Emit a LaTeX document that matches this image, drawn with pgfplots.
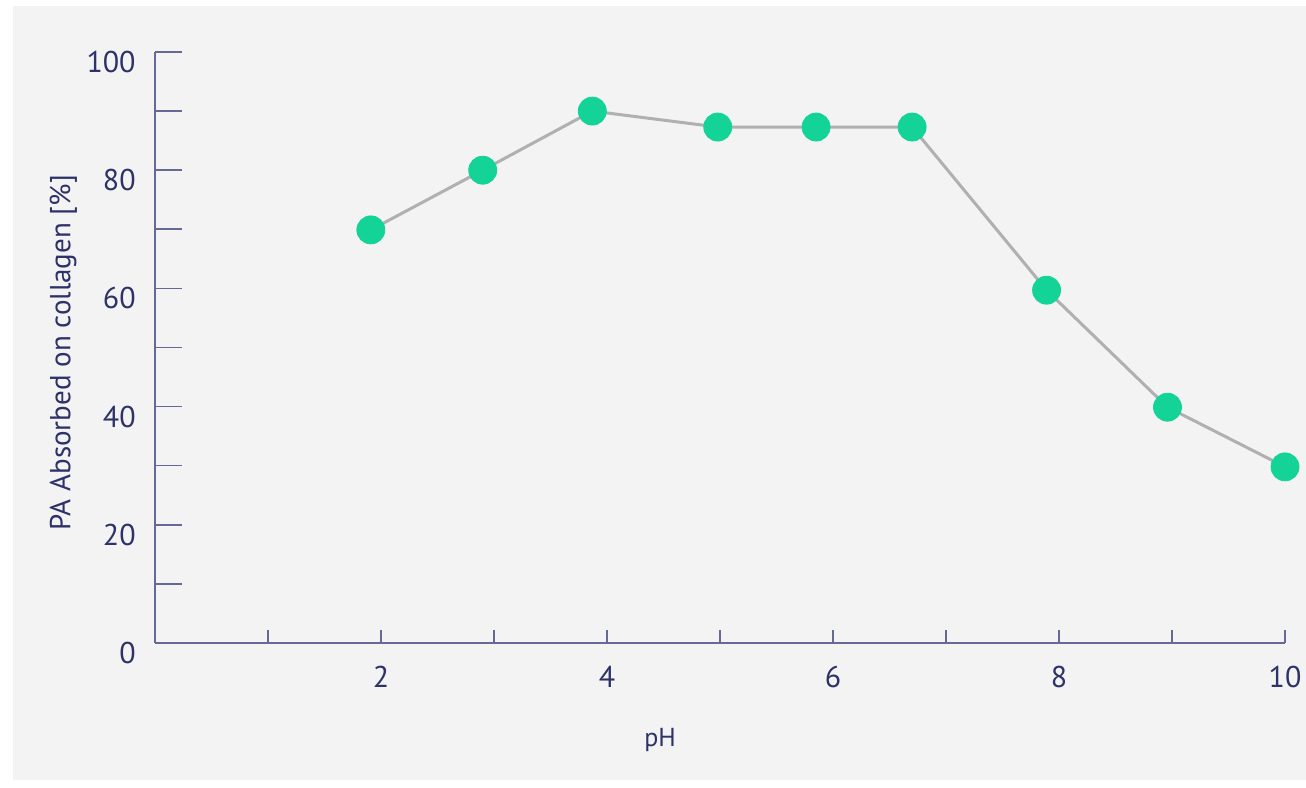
\documentclass[border=0pt]{standalone}
\usepackage{pgfplots}
\pgfplotsset{compat=1.18}
\usepackage{fontspec}
\setmainfont{PT Sans}
\definecolor{bgc}{RGB}{243,243,243}
\definecolor{navy}{RGB}{45,50,104}
\definecolor{axc}{RGB}{100,105,150}
\definecolor{mk}{RGB}{20,211,150}
\definecolor{ln}{RGB}{176,176,176}
\begin{document}
\begin{tikzpicture}
\fill[white] (0,0) rectangle (653pt,393.5pt);
\fill[bgc] (6.5pt,3.5pt) rectangle (653pt,390.5pt);
\begin{axis}[
  at={(77.5pt,72pt)}, anchor=south west,
  scale only axis, width=565pt, height=295.5pt,
  xmin=0, xmax=10, ymin=0, ymax=100,
  axis x line=bottom, axis y line=left,
  axis line style={-, draw=axc, line width=0.8pt},
  clip=false,
  xtick=\empty,
  ytick={0,10,...,100},
  yticklabels={0,,20,,40,,60,,80,,100},
  tick align=inside,
  major tick length=13.5pt,
  ytick style={draw=axc, line width=0.8pt},
  yticklabel style={font=\fontsize{15}{18}\selectfont, text=navy, inner sep=0pt, anchor=east, xshift=-9.5pt, yshift=-5pt},
  ylabel={PA Absorbed on collagen [\%]},
  ylabel style={font=\fontsize{14.5}{17}\selectfont, text=navy, at={(axis description cs:-0.081,0.491)}, anchor=center},
  xlabel={pH},
  xlabel style={font=\fontsize{13}{15}\selectfont, text=navy, at={(axis description cs:0.447,0)}, anchor=center, yshift=-48.5pt},
  /pgf/number format/assume math mode=true,
]
\pgfplotsinvokeforeach{1,...,10}{\draw[axc, line width=0.8pt] (axis cs:#1,0) -- ++(0,6.5pt);}
\pgfplotsinvokeforeach{2,4,6,8,10}{\node[font=\fontsize{15}{18}\selectfont, text=navy, inner sep=0pt, anchor=center] at (axis cs:#1,0) [yshift=-17pt] {#1};}
\addplot[color=ln, line width=1.5pt, mark=*, mark size=7pt, mark options={fill=mk, draw=mk, line width=0.4pt}]
  coordinates {
  (1.91,69.9) (2.90,80.0) (3.87,90.0) (4.98,87.3) (5.85,87.3) (6.70,87.3) (7.89,59.7) (8.96,39.9) (10.0,29.8)
  };
\end{axis}
\end{tikzpicture}
\end{document}
